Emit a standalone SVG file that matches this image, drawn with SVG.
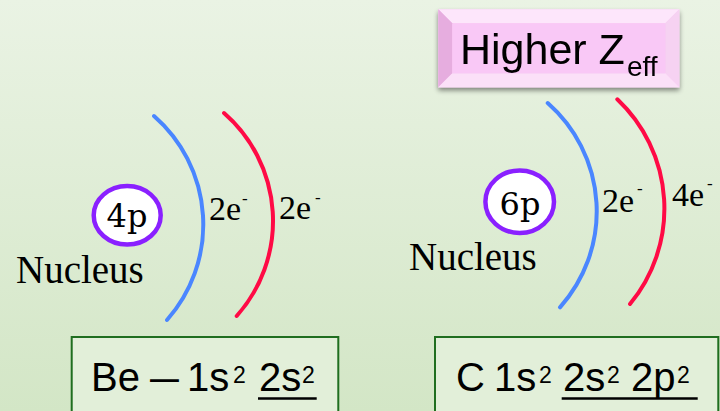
<svg xmlns="http://www.w3.org/2000/svg" width="720" height="411" viewBox="0 0 720 411">
  <defs>
    <linearGradient id="bg" x1="0" y1="0" x2="0" y2="1">
      <stop offset="0" stop-color="#eaf3e4"/>
      <stop offset="1" stop-color="#d3e6c6"/>
    </linearGradient>
    <filter id="shadow" x="-10%" y="-20%" width="120%" height="150%">
      <feGaussianBlur in="SourceAlpha" stdDeviation="2.5"/>
      <feOffset dx="0" dy="3" result="b"/>
      <feComponentTransfer><feFuncA type="linear" slope="0.45"/></feComponentTransfer>
      <feMerge><feMergeNode/><feMergeNode in="SourceGraphic"/></feMerge>
    </filter>
    <style>
      .serif { font-family: "Liberation Serif", "Times New Roman", serif; fill: #000; }
      .lbl { font-size: 34px; }
      .minus { font-size: 17px; }
      .nuc { font-family: "DejaVu Serif", "Liberation Serif", serif; font-size: 32px; fill: #000; }
      .sans { font-family: "Liberation Sans", Arial, sans-serif; fill: #000; }
      .big { font-size: 40px; }
      .sup { font-size: 23px; }
      .ring { fill: #ffffff; stroke: #8a20ff; stroke-width: 4.5; }
      .shell { fill: none; stroke-width: 4; stroke-linecap: round; }
      .inner { stroke: #4a86ff; }
      .outer { stroke: #ff0a45; }
      .cfg { fill: #e2efd9; stroke: #1f6e1f; stroke-width: 2; }
      .ul { stroke: #000; stroke-width: 2.6; }
    </style>
  </defs>

  <rect x="0" y="0" width="720" height="411" fill="url(#bg)"/>

  <!-- Beryllium -->
  <g id="be-nucleus">
    <ellipse class="ring" cx="127.2" cy="215.3" rx="33.5" ry="29.3"/>
    <text class="nuc" x="127" y="227" text-anchor="middle">4p</text>
    <text class="serif" x="16" y="283" font-size="39">Nucleus</text>
  </g>
  <g id="be-shell1">
    <path class="shell inner" d="M154,116 A144,144 0 0 1 167,320"/>
    <text class="serif lbl" x="209" y="220">2e</text>
    <text class="serif minus" x="242" y="204">-</text>
  </g>
  <g id="be-shell2">
    <path class="shell outer" d="M224,113 A143,143 0 0 1 236.7,316"/>
    <text class="serif lbl" x="279" y="218.5">2e</text>
    <text class="serif minus" x="315" y="202.5">-</text>
  </g>
  <g id="be-config">
    <rect class="cfg" x="71.7" y="337" width="266.6" height="90"/>
    <text class="sans big" x="91" y="391">Be</text>
    <text class="sans big" transform="translate(150,391) scale(1.3,1)" x="0" y="0">–</text>
    <text class="sans big" x="187" y="391">1s</text>
    <text class="sans sup" x="233" y="383">2</text>
    <text class="sans big" x="259" y="391">2s</text>
    <text class="sans sup" x="302" y="383">2</text>
    <line class="ul" x1="258" y1="398.5" x2="316.7" y2="398.5"/>
  </g>

  <!-- Carbon -->
  <g id="zeff-label" filter="url(#shadow)">
    <rect x="438.3" y="9.3" width="241" height="78" fill="#f8c8f4"/>
    <polygon points="438.3,9.3 679.3,9.3 665.3,23.3 452.3,23.3" fill="#fde6fb"/>
    <polygon points="438.3,9.3 452.3,23.3 452.3,73.3 438.3,87.3" fill="#e6addf"/>
    <polygon points="679.3,9.3 679.3,87.3 665.3,73.3 665.3,23.3" fill="#f6d2f2"/>
    <polygon points="438.3,87.3 452.3,73.3 665.3,73.3 679.3,87.3" fill="#fbe0f8"/>
    <rect x="452.3" y="23.3" width="213" height="50" fill="#f9c8f6"/>
    <text class="sans" x="460" y="64" font-size="43">Higher Z</text>
    <text class="sans" x="627" y="76" font-size="28">eff</text>
  </g>
  <g id="c-nucleus">
    <ellipse class="ring" cx="519.7" cy="201.7" rx="34.3" ry="31.3"/>
    <text class="nuc" x="520" y="215" text-anchor="middle">6p</text>
    <text class="serif" x="409" y="270" font-size="39">Nucleus</text>
  </g>
  <g id="c-shell1">
    <path class="shell inner" d="M547.7,103 A144,144 0 0 1 560,307.3"/>
    <text class="serif lbl" x="602" y="211.7">2e</text>
    <text class="serif minus" x="637" y="194">-</text>
  </g>
  <g id="c-shell2">
    <path class="shell outer" d="M617.3,99.3 A150,150 0 0 1 630,304"/>
    <text class="serif lbl" x="672" y="206">4e</text>
    <text class="serif minus" x="707" y="189">-</text>
  </g>
  <g id="c-config">
    <rect class="cfg" x="435" y="337" width="283.3" height="90"/>
    <text class="sans big" x="456" y="391">C</text>
    <text class="sans big" x="494" y="391">1s</text>
    <text class="sans sup" x="539" y="383">2</text>
    <text class="sans big" x="563" y="391">2s</text>
    <text class="sans sup" x="607" y="383">2</text>
    <text class="sans big" x="631" y="391">2p</text>
    <text class="sans sup" x="677" y="383">2</text>
    <line class="ul" x1="561.7" y1="398.5" x2="697.7" y2="398.5"/>
  </g>

  <g id="connectors"/>
</svg>
